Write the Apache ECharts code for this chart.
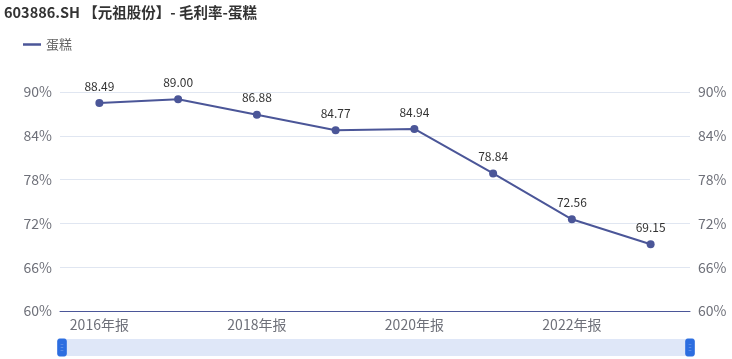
<!DOCTYPE html>
<html><head><meta charset="utf-8">
<script src="https://cdn.jsdelivr.net/npm/echarts@6/dist/echarts.min.js"></script>
<style>html,body{margin:0;padding:0;background:#fff}#c{width:732px;height:359px}</style>
</head><body><div id="c"></div>
<script>
const titleText = '603886.SH 【元祖股份】- 毛利率-蛋糕';
const seriesName = '蛋糕';
const categories = ['2016年报','2017年报','2018年报','2019年报','2020年报','2021年报','2022年报','2023年报'];
const values = [88.49, 89.00, 86.88, 84.77, 84.94, 78.84, 72.56, 69.15];
const yMin = 60, yMax = 90, yStep = 6;

const lineColor = '#4b5698';
const chart = echarts.init(document.getElementById('c'));
const yAxisCommon = {
  type: 'value', min: yMin, max: yMax, interval: yStep,
  axisLine: {show: false}, axisTick: {show: false},
  axisLabel: {formatter: '{value}%', color: '#6e7079', fontSize: 14, fontFamily: 'Noto Sans CJK SC', margin: 8},
  splitLine: {lineStyle: {color: '#e0e6f1'}}
};
chart.setOption({
  animation: false,
  title: {text: titleText, left: 4, top: 5, padding: 0, textStyle: {fontSize: 14.5, fontWeight: 'bold', color: '#333', fontFamily: 'Noto Sans CJK SC'}},
  legend: {data: [seriesName], left: 18, top: 33, itemWidth: 18, itemHeight: 10, icon: 'path://M0,4h18v2.5h-18z',
    textStyle: {color: '#666', fontSize: 13, fontFamily: 'Noto Sans CJK SC'}},
  grid: {left: 60, right: 42, top: 92, bottom: 48},
  xAxis: {type: 'category', data: categories, boundaryGap: true,
    axisLine: {lineStyle: {color: '#4b5698'}}, axisTick: {show: false},
    axisLabel: {interval: 1, color: '#6e7079', fontSize: 14, fontFamily: 'Noto Sans CJK SC', margin: 7}},
  yAxis: [Object.assign({position: 'left'}, yAxisCommon), Object.assign({position: 'right'}, yAxisCommon, {splitLine: {show: false}})],
  dataZoom: [{type: 'slider', xAxisIndex: 0, start: 0, end: 100, left: 60, right: 42, bottom: 3, height: 17,
    showDetail: false, showDataShadow: false, brushSelect: false, moveHandleSize: 0,
    borderColor: 'transparent', backgroundColor: '#dfe7f8', fillerColor: '#dfe7f8',
    handleIcon: 'path://M2,0h6a2,2 0 0 1 2,2v16a2,2 0 0 1 -2,2h-6a2,2 0 0 1 -2,-2v-16a2,2 0 0 1 2,-2z M3,6v1.2h4v-1.2z M3,9.4v1.2h4v-1.2z M3,12.8v1.2h4v-1.2z',
    handleSize: '100%', handleStyle: {color: '#2d6ee0', borderColor: '#2d6ee0'}}],
  series: [{name: seriesName, type: 'line', data: values, symbol: 'circle', symbolSize: 8,
    itemStyle: {color: lineColor}, lineStyle: {color: lineColor, width: 2},
    label: {show: true, position: 'top', color: '#333', fontSize: 12, fontFamily: 'Noto Sans CJK SC', formatter: p => p.value.toFixed(2), distance: 7}}]
});
</script></body></html>
